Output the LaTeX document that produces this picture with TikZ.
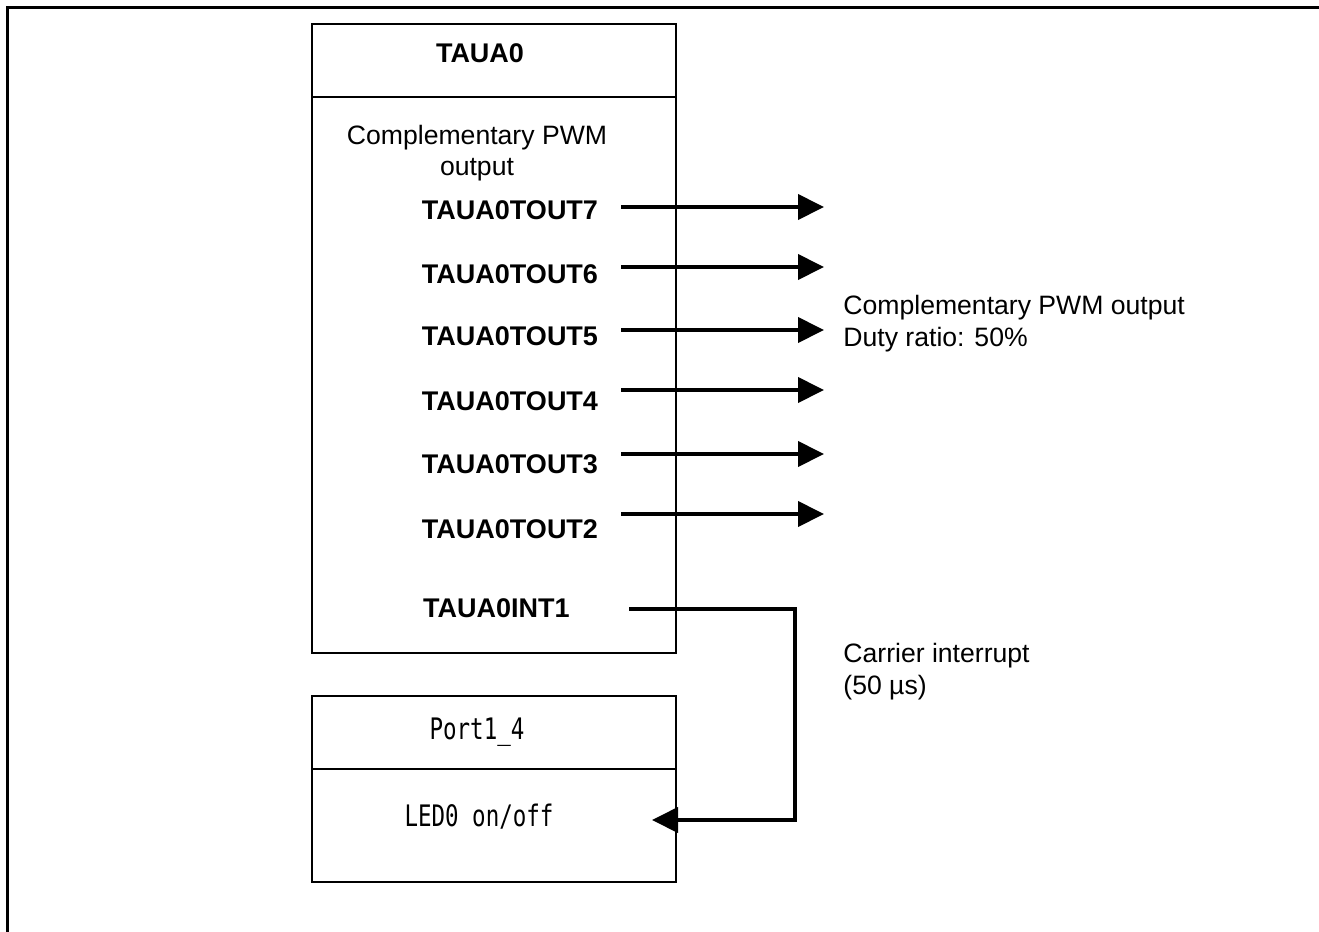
\documentclass[tikz,border=0pt]{standalone}
\usepackage{fontspec}
\setmainfont{Liberation Sans}
\newfontfamily\gothic[FakeStretch=0.76]{DejaVu Sans Mono}
\usetikzlibrary{arrows.meta}
\tikzset{
  x=0.5pt, y=-0.5pt,
  box/.style={draw, line width=1pt, inner sep=0pt, minimum width=182pt},
  lbl/.style={inner sep=0pt, font=\bfseries\fontsize{13.5}{15.75}\selectfont, anchor=base},
  txt/.style={inner sep=0pt, font=\fontsize{13.3}{15.75}\selectfont},
  gtxt/.style={inner sep=0pt, font=\gothic\fontsize{14.8}{16}\selectfont, anchor=base},
  sig/.style={line width=2pt, line join=miter, -{Triangle[length=13pt,width=12.5pt]}}
}
\begin{document}
\begin{tikzpicture}
\useasboundingbox (0,0) rectangle (1319,932);
% outer frame (top and left only)
\draw[line width=1.6pt, line join=miter] (7.5,932) -- (7.5,7.5) -- (1319,7.5);

% TAUA0 block
\node[box, minimum height=36.5pt] (tauh) at (494,60.5) {};
\node[box, minimum height=278pt] (taub) at (494,375) {};
\node[lbl] (taut) at (480,62) {TAUA0};
\node[txt, align=center] (cpwm) at (477,153) {Complementary PWM\\output};

\node[lbl] (t7) at (510,219) {TAUA0TOUT7};
\node[lbl] (t6) at (510,283) {TAUA0TOUT6};
\node[lbl] (t5) at (510,345.7) {TAUA0TOUT5};
\node[lbl] (t4) at (510,410) {TAUA0TOUT4};
\node[lbl] (t3) at (510,473) {TAUA0TOUT3};
\node[lbl] (t2) at (510,538) {TAUA0TOUT2};
\node[lbl] (int1) at (496.5,617) {TAUA0INT1};

% Port1_4 block
\node[box, minimum height=36.5pt] (porth) at (494,732.5) {};
\node[box, minimum height=56.5pt] (portb) at (494,825.5) {};
\node[gtxt] (portt) at (477,739) {Port1\_4};
\node[gtxt] (led) at (479,826.7) {LED0 on/off};

% right labels
\node[txt, align=left, anchor=west] (pwmlbl) at (843,323.6) {Complementary PWM output\\Duty ratio: 50\%};
\node[txt, align=left, anchor=west] (carlbl) at (843,671.6) {Carrier interrupt\\(50 µs)};

% output arrows
\coordinate (s7) at (621,207);   \coordinate (e7) at (824,207);
\coordinate (s6) at (621,267);   \coordinate (e6) at (824,267);
\coordinate (s5) at (621,330);   \coordinate (e5) at (824,330);
\coordinate (s4) at (621,390);   \coordinate (e4) at (824,390);
\coordinate (s3) at (621,454);   \coordinate (e3) at (824,454);
\coordinate (s2) at (621,514);   \coordinate (e2) at (824,514);
\draw[sig] (s7) -- (e7);
\draw[sig] (s6) -- (e6);
\draw[sig] (s5) -- (e5);
\draw[sig] (s4) -- (e4);
\draw[sig] (s3) -- (e3);
\draw[sig] (s2) -- (e2);

% interrupt connector
\coordinate (si) at (629,609);
\coordinate (ci) at (795,700);
\coordinate (ei) at (652,820);
\draw[sig] (si) -| (ci) |- (ei);
\end{tikzpicture}
\end{document}
